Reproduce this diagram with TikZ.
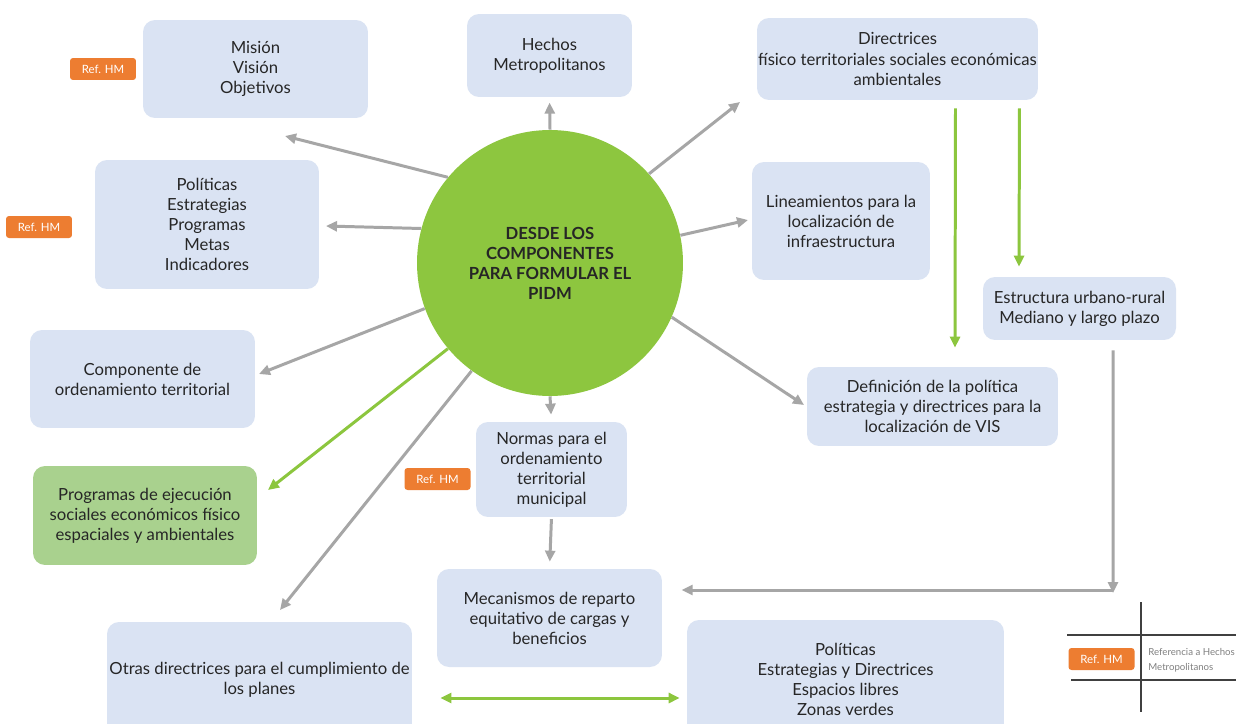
\documentclass[tikz,border=0pt]{standalone}
\usepackage{fontspec}
\setmainfont{Lato}
\usetikzlibrary{arrows.meta}
\definecolor{boxblue}{HTML}{DAE3F3}
\definecolor{boxgreen}{HTML}{A9D18E}
\definecolor{pidmgreen}{HTML}{8DC63F}
\definecolor{arrowgreen}{HTML}{8CC63E}
\definecolor{arrowgray}{HTML}{A6A6A6}
\definecolor{refHM}{HTML}{ED7D31}
\definecolor{txtdark}{HTML}{262626}
\definecolor{legendline}{HTML}{404040}

\begin{document}
\begin{tikzpicture}[x=0.02cm, y=-0.02cm,
	box/.style={rounded corners=0.24cm, fill=boxblue, text=txtdark, align=center, inner sep=0pt, font=\fontsize{9.5}{11.4}\selectfont},
	tag/.style={rounded corners=0.06cm, fill=refHM, text=white, minimum width=1.32cm, minimum height=0.44cm, inner sep=0pt, font=\fontsize{6.5}{7}\selectfont},
	grayarrow/.style={draw=arrowgray, line width=1.7pt, -{Triangle[length=0.22cm, width=0.2cm]}},
	greenarrow/.style={draw=arrowgreen, line width=1.7pt, -{Triangle[length=0.22cm, width=0.2cm]}}]
	\clip (0,0) rectangle (1236,723);
	\fill[white] (0,0) rectangle (1236,723);

	\node[circle, fill=pidmgreen, minimum size=5.32cm, inner sep=0pt, align=center, text=txtdark, font=\bfseries\fontsize{9.5}{11.4}\selectfont] (pidm) at (550,263) {DESDE LOS\\COMPONENTES\\PARA FORMULAR EL\\PIDM};

	\node[box, minimum width=4.5cm, minimum height=1.96cm] (mision) at (255.5,69) {Misión\\Visión\\Objetivos};
	\node[box, minimum width=3.3cm, minimum height=1.66cm] (hechos) at (549.5,55.5) {Hechos\\Metropolitanos};
	\node[box, minimum width=5.62cm, minimum height=1.64cm] (directrices) at (897.5,59) {Directrices\\físico territoriales sociales económicas\\ambientales};
	\node[box, minimum width=4.48cm, minimum height=2.58cm] (politicas) at (207,224.5) {Políticas\\Estrategias\\Programas\\Metas\\Indicadores};
	\node[box, minimum width=3.56cm, minimum height=2.36cm] (lineam) at (841,221) {Lineamientos para la\\localización de\\infraestructura};
	\node[box, minimum width=3.86cm, minimum height=1.26cm] (estructura) at (1079.5,308.5) {Estructura urbano-rural\\Mediano y largo plazo};
	\node[box, minimum width=4.5cm, minimum height=1.96cm] (componente) at (142.5,379) {Componente de\\ordenamiento territorial};
	\node[box, minimum width=5.02cm, minimum height=1.58cm] (vis) at (932.5,406.5) {Definición de la política\\estrategia y directrices para la\\localización de VIS};
	\node[box, minimum width=3.02cm, minimum height=1.9cm] (normas) at (551.5,469.5) {Normas para el\\ordenamiento\\territorial\\municipal};
	\node[box, fill=boxgreen, minimum width=4.48cm, minimum height=1.98cm] (programas) at (145,515.5) {Programas de ejecución\\sociales económicos físico\\espaciales y ambientales};
	\node[box, minimum width=4.5cm, minimum height=1.96cm] (mecanismos) at (549.5,618) {Mecanismos de reparto\\equitativo de cargas y\\beneficios};
	\node[box, minimum width=6.1cm, minimum height=2.32cm] (otras) at (259.5,680) {Otras directrices para el cumplimiento de\\los planes};
	\node[box, minimum width=6.34cm, minimum height=2.38cm] (espacios) at (845.5,679.5) {Políticas\\Estrategias y Directrices\\Espacios libres\\Zonas verdes};

	\node[tag] (ref1) at (103,69) {Ref. HM};
	\node[tag] (ref2) at (39,227) {Ref. HM};
	\node[tag] (ref3) at (437.5,479) {Ref. HM};
	\node[tag] (ref4) at (1101.5,659) {Ref. HM};

	\coordinate (to-mision) at (285,136);
	\coordinate (to-dir) at (740,102);
	\coordinate (to-pol) at (326,226);
	\coordinate (to-lin) at (748,220);
	\coordinate (to-vis) at (804,405);
	\coordinate (to-comp) at (259,374);
	\coordinate (to-prog) at (268,490);
	\coordinate (to-otras) at (280,610);
	\coordinate (corner) at (1113,593);

	\draw[grayarrow] (pidm.140.7) -- (to-mision);
	\draw[grayarrow, shorten >=3] (pidm.north) -- (hechos.south);
	\draw[grayarrow] (pidm.42.9) -- (to-dir);
	\draw[grayarrow] (pidm.165) -- (to-pol);
	\draw[grayarrow] (pidm.12.3) -- (to-lin);
	\draw[grayarrow] (pidm.-24.9) -- (to-vis);
	\draw[grayarrow] (pidm.200.2) -- (to-comp);
	\draw[greenarrow] (pidm.220.2) -- (to-prog);
	\draw[grayarrow] (pidm.234.5) -- (to-otras);
	\draw[grayarrow, shorten >=4] (pidm.south) -- (normas.north);
	\draw[grayarrow, shorten <=1, shorten >=4] (normas.south) -- (mecanismos.north);

	\draw[greenarrow] ([xshift=1.16cm, yshift=-0.16cm]directrices.south) -- ([xshift=0.45cm, yshift=0.38cm]vis.north);
	\draw[greenarrow] ([xshift=2.44cm, yshift=-0.16cm]directrices.south) -- ([xshift=-1.21cm, yshift=0.2cm]estructura.north);

	\draw[grayarrow] ([xshift=0.67cm, yshift=-0.2cm]estructura.south) -- (corner);
	\draw[grayarrow, shorten >=11] (corner |- 0,590) -- (mecanismos.east |- 0,590);

	\draw[greenarrow, {Triangle[length=0.22cm, width=0.2cm]}-{Triangle[length=0.22cm, width=0.2cm]}, shorten <=16, shorten >=4] (otras.east |- 0,698) -- (espacios.west |- 0,698);

	\draw[legendline, line width=0.8pt] (1141,602) -- (1141,712);
	\draw[legendline, line width=0.8pt] (1067,635) -- (1236,635);
	\draw[legendline, line width=0.8pt] (1071,680) -- (1236,680);
	\node[anchor=west, align=left, text=gray, inner sep=0pt, font=\fontsize{5.5}{8.5}\selectfont] (legend) at (1148,660) {Referencia a Hechos\\Metropolitanos};
\end{tikzpicture}
\end{document}
